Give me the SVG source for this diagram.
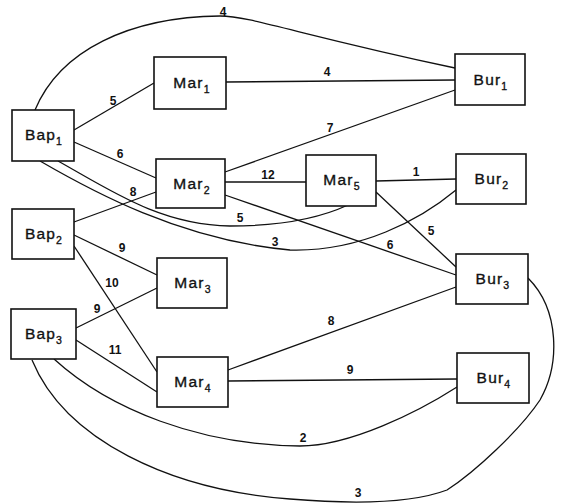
<svg xmlns="http://www.w3.org/2000/svg" width="566" height="503" viewBox="0 0 566 503">
  <style>
    .box { fill: #fff; stroke: #111; stroke-width: 1.6; }
    .name { font-family: "Liberation Sans", Arial, sans-serif; font-size: 15.5px; fill: #111; stroke: #111; stroke-width: 0.35; text-anchor: middle; letter-spacing: 1.2px; }
    .sub { font-size: 10.5px; }
    .edge { fill: none; stroke: #111; stroke-width: 1.3; }
    .w { font-family: "Liberation Sans", Arial, sans-serif; font-size: 12px; font-weight: bold; fill: #111; text-anchor: middle; }
  </style>
  <rect width="566" height="503" fill="#fff"/>

  <g id="connectors">
    <!-- curved links -->
    <path class="edge" d="M35,110 C60,50 130,17 220,16 C250,16 300,35 455,68"/>
    <path class="edge" d="M58,161 C110,190 160,225 230,226 C280,226 320,218 348,205"/>
    <path class="edge" d="M40,161 C90,190 180,240 290,250 C360,252 420,220 456,190"/>
    <path class="edge" d="M54,359 C110,410 200,445 300,446 C350,446 418,412 457,387"/>
    <path class="edge" d="M32,360 C65,440 170,490 290,499 C350,504 410,504 447,490 C475,472 520,430 540,400 C560,365 560,310 528,278"/>
    <!-- straight links -->
    <line class="edge" x1="74" y1="130" x2="154" y2="83"/>
    <line class="edge" x1="74" y1="142" x2="156" y2="178"/>
    <line class="edge" x1="226" y1="82" x2="455" y2="80"/>
    <line class="edge" x1="225" y1="172" x2="455" y2="90"/>
    <line class="edge" x1="225" y1="182" x2="306" y2="182"/>
    <line class="edge" x1="376" y1="181" x2="456" y2="179"/>
    <line class="edge" x1="376" y1="192" x2="456" y2="267"/>
    <line class="edge" x1="225" y1="195" x2="456" y2="275"/>
    <line class="edge" x1="74" y1="222" x2="156" y2="192"/>
    <line class="edge" x1="74" y1="235" x2="157" y2="275"/>
    <line class="edge" x1="74" y1="246" x2="157" y2="372"/>
    <line class="edge" x1="76" y1="328" x2="157" y2="288"/>
    <line class="edge" x1="76" y1="340" x2="157" y2="392"/>
    <line class="edge" x1="228" y1="370" x2="456" y2="287"/>
    <line class="edge" x1="228" y1="381" x2="457" y2="379"/>
    <!-- weights -->
    <text class="w" x="223" y="16">4</text>
    <text class="w" x="113" y="105">5</text>
    <text class="w" x="120" y="158">6</text>
    <text class="w" x="133" y="196">8</text>
    <text class="w" x="268" y="179">12</text>
    <text class="w" x="240" y="222">5</text>
    <text class="w" x="275" y="246">3</text>
    <text class="w" x="122" y="252">9</text>
    <text class="w" x="327" y="76">4</text>
    <text class="w" x="330" y="132">7</text>
    <text class="w" x="416" y="176">1</text>
    <text class="w" x="431" y="235">5</text>
    <text class="w" x="390" y="249">6</text>
    <text class="w" x="112" y="287">10</text>
    <text class="w" x="97" y="313">9</text>
    <text class="w" x="115" y="354">11</text>
    <text class="w" x="331" y="325">8</text>
    <text class="w" x="350" y="374">9</text>
    <text class="w" x="303" y="442">2</text>
    <text class="w" x="358" y="497">3</text>
  </g>

  <g id="bap1"><rect class="box" x="12" y="110" width="62" height="51"/><text class="name" x="44" y="140">Bap<tspan class="sub" dy="5">1</tspan></text></g>
  <g id="bap2"><rect class="box" x="12" y="209" width="62" height="50"/><text class="name" x="44" y="239">Bap<tspan class="sub" dy="5">2</tspan></text></g>
  <g id="bap3"><rect class="box" x="11" y="309" width="65" height="50"/><text class="name" x="44" y="339">Bap<tspan class="sub" dy="5">3</tspan></text></g>

  <g id="mar1"><rect class="box" x="154" y="57" width="72" height="52"/><text class="name" x="192" y="88">Mar<tspan class="sub" dy="5">1</tspan></text></g>
  <g id="mar2"><rect class="box" x="156" y="159" width="69" height="49"/><text class="name" x="192" y="189">Mar<tspan class="sub" dy="5">2</tspan></text></g>
  <g id="mar3"><rect class="box" x="157" y="258" width="70" height="50"/><text class="name" x="193" y="288">Mar<tspan class="sub" dy="5">3</tspan></text></g>
  <g id="mar4"><rect class="box" x="157" y="357" width="71" height="50"/><text class="name" x="193" y="387">Mar<tspan class="sub" dy="5">4</tspan></text></g>
  <g id="mar5"><rect class="box" x="306" y="155" width="70" height="51"/><text class="name" x="342" y="185">Mar<tspan class="sub" dy="5">5</tspan></text></g>

  <g id="bur1"><rect class="box" x="455" y="54" width="70" height="51"/><text class="name" x="491" y="85">Bur<tspan class="sub" dy="5">1</tspan></text></g>
  <g id="bur2"><rect class="box" x="456" y="154" width="70" height="50"/><text class="name" x="492" y="184">Bur<tspan class="sub" dy="5">2</tspan></text></g>
  <g id="bur3"><rect class="box" x="456" y="254" width="72" height="50"/><text class="name" x="493" y="284">Bur<tspan class="sub" dy="5">3</tspan></text></g>
  <g id="bur4"><rect class="box" x="457" y="353" width="72" height="50"/><text class="name" x="494" y="383">Bur<tspan class="sub" dy="5">4</tspan></text></g>
</svg>
